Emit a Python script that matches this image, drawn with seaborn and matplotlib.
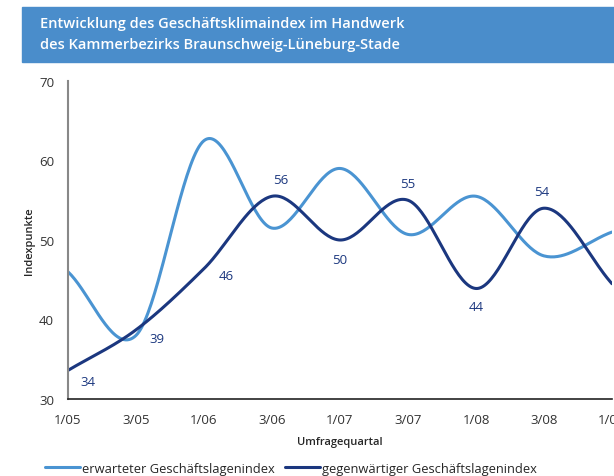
import numpy as np
import pandas as pd
import seaborn as sns
import matplotlib.pyplot as plt
from matplotlib.patches import Rectangle

quarters = ["1/05", "3/05", "1/06", "3/06", "1/07", "3/07", "1/08", "3/08", "1/09"]
erwartet = [46.0, 38.0, 62.5, 51.5, 59.0, 50.7, 55.5, 48.0, 51.0]
gegenwaertig = [33.6, 38.7, 46.4, 55.5, 50.0, 55.0, 43.9, 54.0, 44.5]
point_labels = ["34", "39", "46", "56", "50", "55", "44", "54"]
# label offsets in points (dx, dy) relative to the data point
label_offsets = [(14, -8), (15, -6), (16, -5), (6, 12), (0, -14), (0, 12), (0, -13), (-2, 12)]

LIGHT = "#4a94d2"
DARK = "#1b377f"
BANNER = "#4a8dcb"


def smooth(y, n=40):
    # catmull-rom style smoothing like the excel "smoothed line"
    y = np.asarray(y, dtype=float)
    p = np.concatenate([[2 * y[0] - y[1]], y, [2 * y[-1] - y[-2]]])
    xs, ys = [], []
    for i in range(len(y) - 1):
        p0, p1, p2, p3 = p[i], p[i + 1], p[i + 2], p[i + 3]
        t = np.linspace(0, 1, n, endpoint=False)
        seg = 0.5 * ((2 * p1) + (-p0 + p2) * t + (2 * p0 - 5 * p1 + 4 * p2 - p3) * t ** 2
                     + (-p0 + 3 * p1 - 3 * p2 + p3) * t ** 3)
        xs.extend(i + t)
        ys.extend(seg)
    xs.append(len(y) - 1)
    ys.append(y[-1])
    return np.array(xs), np.array(ys)


sns.set_style("white")
plt.rcParams["font.family"] = ["Open Sans", "DejaVu Sans"]

fig = plt.figure(figsize=(6.14, 4.77), dpi=100)
ax = fig.add_axes([68 / 614, 1 - 400 / 477, 544 / 614, 318 / 477])

xs1, ys1 = smooth(erwartet)
xs2, ys2 = smooth(gegenwaertig)
sns.lineplot(x=xs1, y=ys1, color=LIGHT, lw=2.2, sort=False, ax=ax,
             label="erwarteter Geschäftslagenindex")
sns.lineplot(x=xs2, y=ys2, color=DARK, lw=2.2, sort=False, ax=ax,
             label="gegenwärtiger Geschäftslagenindex")

for i, lab in enumerate(point_labels):
    dx, dy = label_offsets[i]
    ax.annotate(lab, (i, gegenwaertig[i]), xytext=(dx, dy), textcoords="offset points",
                ha="center", va="center", color=DARK, fontsize=9.5)

ax.set_xlim(0, 8)
ax.set_ylim(30, 70)
ax.set_xticks(range(len(quarters)))
ax.set_xticklabels(quarters)
ax.set_yticks([30, 40, 50, 60, 70])
ax.tick_params(direction="inout", length=8, width=1, colors="#333333", labelsize=9.5, pad=6)
for s in ["top", "right"]:
    ax.spines[s].set_visible(False)
ax.spines["left"].set_color("#888888")
ax.spines["left"].set_linewidth(1.5)
ax.spines["bottom"].set_color("#222222")
ax.spines["bottom"].set_linewidth(1.2)
ax.set_ylabel("Indexpunkte", fontsize=8, fontweight="semibold", labelpad=3)
ax.set_xlabel("Umfragequartal", fontsize=8, fontweight="semibold", labelpad=7)

handles, labels = ax.get_legend_handles_labels()
ax.legend_.remove()
fig.legend(handles, labels, loc="lower left", bbox_to_anchor=(40 / 614, -0.008), ncol=2,
           frameon=False, fontsize=9.3, handlelength=2.7, handletextpad=0.15,
           columnspacing=0.8, borderaxespad=0)

fig.patches.append(Rectangle((22 / 614, 1 - 63 / 477), 592 / 614, 55 / 477,
                             transform=fig.transFigure, color=BANNER, zorder=0))
fig.text(40 / 614, 1 - 24 / 477, "Entwicklung des Geschäftsklimaindex im Handwerk",
         color="white", fontsize=10.5, fontweight="semibold", va="center")
fig.text(40 / 614, 1 - 45 / 477, "des Kammerbezirks Braunschweig-Lüneburg-Stade",
         color="white", fontsize=10.5, fontweight="semibold", va="center")

fig.savefig("out.png", dpi=100)
